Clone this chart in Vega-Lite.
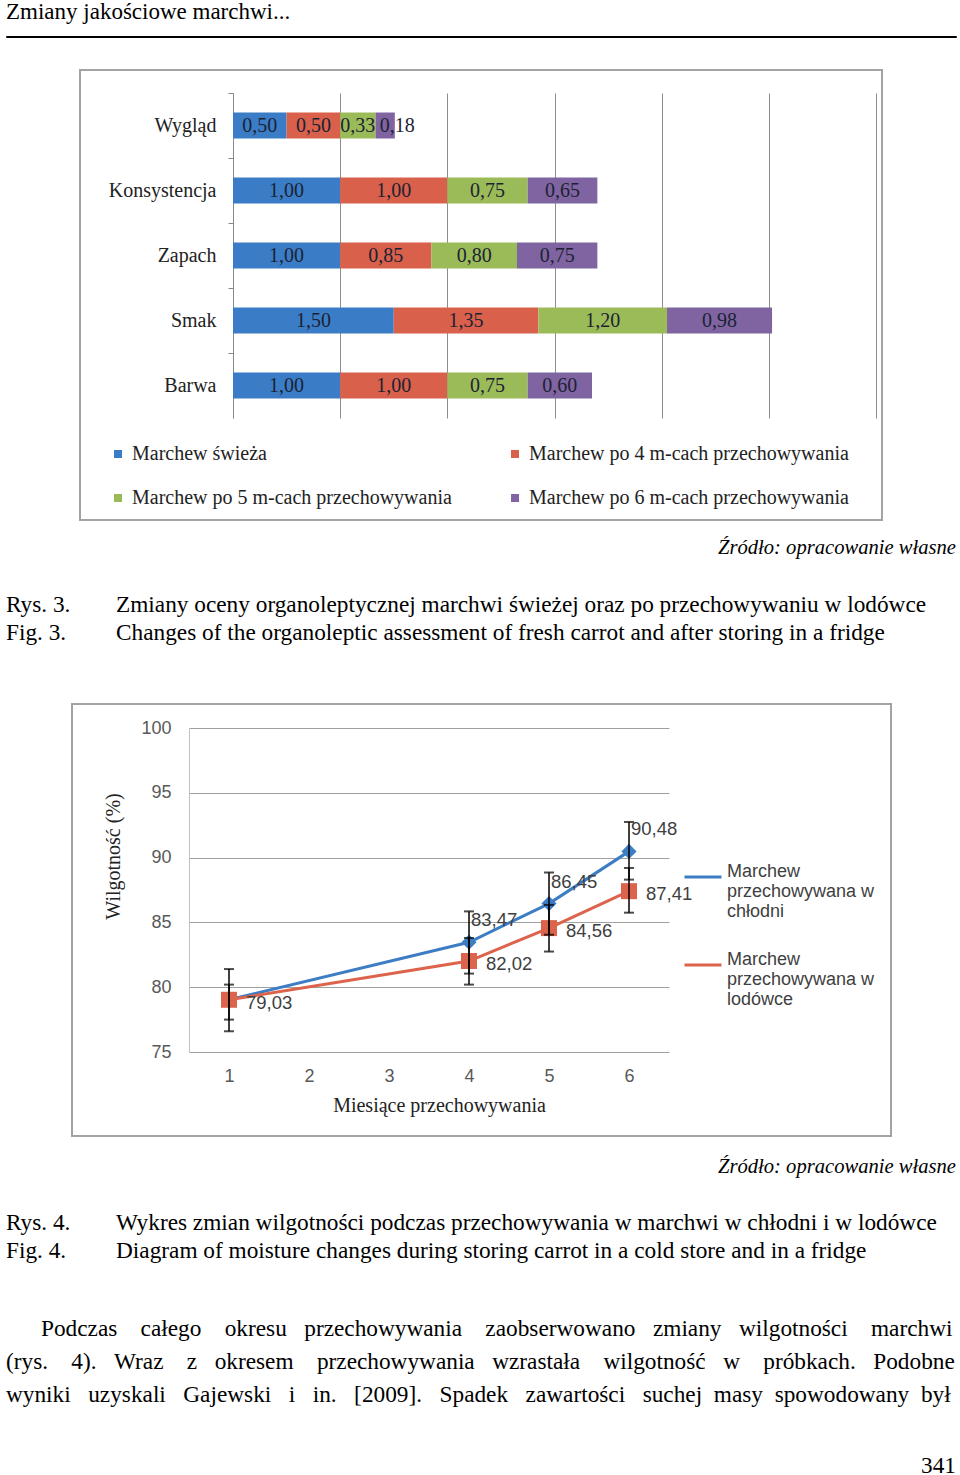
{
  "$schema": "https://vega.github.io/schema/vega-lite/v6.json",
  "background": "white",
  "padding": {"left": 5, "top": 0, "right": 5, "bottom": 0},
  "spacing": 0,
  "bounds": "full",
  "resolve": {
    "scale": {"color": "independent", "shape": "independent", "size": "independent", "x": "independent", "y": "independent"},
    "legend": {"color": "independent", "shape": "independent", "size": "independent"}
  },
  "datasets": {
    "bars": [
      {"crit": "Wygląd", "series": "Marchew świeża", "k": 1, "value": 0.50},
      {"crit": "Wygląd", "series": "Marchew po 4 m-cach przechowywania", "k": 2, "value": 0.50},
      {"crit": "Wygląd", "series": "Marchew po 5 m-cach przechowywania", "k": 3, "value": 0.33},
      {"crit": "Wygląd", "series": "Marchew po 6 m-cach przechowywania", "k": 4, "value": 0.18},
      {"crit": "Konsystencja", "series": "Marchew świeża", "k": 1, "value": 1.00},
      {"crit": "Konsystencja", "series": "Marchew po 4 m-cach przechowywania", "k": 2, "value": 1.00},
      {"crit": "Konsystencja", "series": "Marchew po 5 m-cach przechowywania", "k": 3, "value": 0.75},
      {"crit": "Konsystencja", "series": "Marchew po 6 m-cach przechowywania", "k": 4, "value": 0.65},
      {"crit": "Zapach", "series": "Marchew świeża", "k": 1, "value": 1.00},
      {"crit": "Zapach", "series": "Marchew po 4 m-cach przechowywania", "k": 2, "value": 0.85},
      {"crit": "Zapach", "series": "Marchew po 5 m-cach przechowywania", "k": 3, "value": 0.80},
      {"crit": "Zapach", "series": "Marchew po 6 m-cach przechowywania", "k": 4, "value": 0.75},
      {"crit": "Smak", "series": "Marchew świeża", "k": 1, "value": 1.50},
      {"crit": "Smak", "series": "Marchew po 4 m-cach przechowywania", "k": 2, "value": 1.35},
      {"crit": "Smak", "series": "Marchew po 5 m-cach przechowywania", "k": 3, "value": 1.20},
      {"crit": "Smak", "series": "Marchew po 6 m-cach przechowywania", "k": 4, "value": 0.98},
      {"crit": "Barwa", "series": "Marchew świeża", "k": 1, "value": 1.00},
      {"crit": "Barwa", "series": "Marchew po 4 m-cach przechowywania", "k": 2, "value": 1.00},
      {"crit": "Barwa", "series": "Marchew po 5 m-cach przechowywania", "k": 3, "value": 0.75},
      {"crit": "Barwa", "series": "Marchew po 6 m-cach przechowywania", "k": 4, "value": 0.60}
    ],
    "moist": [
      {"month": 1, "series": "Marchew przechowywana w chłodni", "value": 79.03, "lo": 76.6, "hi": 81.4},
      {"month": 4, "series": "Marchew przechowywana w chłodni", "value": 83.47, "lo": 81.05, "hi": 85.85},
      {"month": 5, "series": "Marchew przechowywana w chłodni", "value": 86.45, "lo": 84.05, "hi": 88.85},
      {"month": 6, "series": "Marchew przechowywana w chłodni", "value": 90.48, "lo": 88.3, "hi": 92.75},
      {"month": 1, "series": "Marchew przechowywana w lodówce", "value": 79.03, "lo": 77.5, "hi": 80.2},
      {"month": 4, "series": "Marchew przechowywana w lodówce", "value": 82.02, "lo": 80.2, "hi": 83.8},
      {"month": 5, "series": "Marchew przechowywana w lodówce", "value": 84.56, "lo": 82.75, "hi": 86.35},
      {"month": 6, "series": "Marchew przechowywana w lodówce", "value": 87.41, "lo": 85.75, "hi": 89.2}
    ]
  },
  "vconcat": [
    {
      "width": 950, "height": 1,
      "view": {"stroke": "#000000", "strokeWidth": 1},
      "title": {"text": "Zmiany jakościowe marchwi...", "anchor": "start", "fontSize": 23, "offset": -11, "baseline": "bottom"},
      "data": {"values": []}, "mark": "point"
    },
    {"width": 950, "height": 31, "data": {"values": []}, "mark": "point"},
    {
      "spacing": 0, "bounds": "flush",
      "hconcat": [
        {"width": 74, "height": 450, "data": {"values": []}, "mark": "point"},
        {
          "width": 802, "height": 450,
          "view": {"stroke": "#a3a3a3", "strokeWidth": 2},
          "data": {"name": "bars"},
          "encoding": {
            "y": {
              "field": "crit", "type": "nominal",
              "sort": ["Wygląd", "Konsystencja", "Zapach", "Smak", "Barwa"],
              "scale": {"range": [23, 348], "paddingInner": 0.6, "paddingOuter": 0.3},
              "axis": {
                "title": null, "orient": "left", "offset": -153,
                "labelFont": "Liberation Serif", "labelFontSize": 20, "labelColor": "#222222",
                "labelPadding": 12, "ticks": true, "tickSize": 5, "tickColor": "#8a8a8a",
                "bandPosition": -0.75,
                "domain": true, "domainColor": "#8a8a8a", "grid": false
              }
            }
          },
          "layer": [
            {
              "mark": {"type": "bar"},
              "encoding": {
                "x": {
                  "field": "value", "type": "quantitative", "stack": "zero",
                  "scale": {"domain": [0, 6], "range": [153, 796], "nice": false},
                  "axis": {"orient": "top", "title": null, "values": [0, 1, 2, 3, 4, 5, 6], "labels": false, "ticks": false, "domain": false, "grid": true, "gridColor": "#8c8c8c", "gridWidth": 1}
                },
                "color": {
                  "field": "series", "type": "nominal",
                  "scale": {
                    "domain": ["Marchew świeża", "Marchew po 4 m-cach przechowywania", "Marchew po 5 m-cach przechowywania", "Marchew po 6 m-cach przechowywania"],
                    "range": ["#3a7dc6", "#d9604a", "#9bbb59", "#8064a2"]
                  },
                  "legend": {
                    "title": null, "orient": "none", "legendX": 102, "legendY": 374,
                    "direction": "horizontal", "columns": 2, "columnPadding": 53, "rowPadding": 24,
                    "symbolType": "square", "symbolSize": 64, "symbolStrokeWidth": 0,
                    "labelFont": "Liberation Serif", "labelFontSize": 20, "labelColor": "#222222",
                    "labelOffset": 4, "labelLimit": 400
                  }
                },
                "order": {"field": "k", "type": "quantitative"}
              }
            },
            {
              "transform": [{"filter": "datum.value >= 0.3"}],
              "mark": {"type": "text", "font": "Liberation Serif", "fontSize": 20, "color": "#1c2233", "baseline": "middle", "align": "center"},
              "encoding": {
                "x": {"field": "value", "type": "quantitative", "stack": "zero", "bandPosition": 0.5},
                "detail": {"field": "series"},
                "order": {"field": "k", "type": "quantitative"},
                "text": {"field": "value", "type": "quantitative", "format": ".2f"}
              }
            },
            {
              "mark": {"type": "text", "font": "Liberation Serif", "fontSize": 20, "color": "#1c2233", "baseline": "middle", "align": "center", "dx": 12},
              "encoding": {
                "x": {"field": "value", "type": "quantitative", "stack": "zero", "bandPosition": 0.5},
                "detail": {"field": "series"},
                "order": {"field": "k", "type": "quantitative"},
                "text": {"condition": {"test": "datum.value < 0.3", "field": "value", "type": "quantitative", "format": ".2f"}, "value": ""}
              }
            }
          ]
        }
      ]
    },
    {"width": 950, "height": 17, "data": {"values": []}, "mark": "point"},
    {
      "width": 950, "height": 13,
      "title": {"text": "Źródło: opracowanie własne", "anchor": "end", "fontSize": 20.6, "fontStyle": "italic", "offset": 0, "baseline": "bottom"},
      "data": {"values": []}, "mark": "point"
    },
    {
      "spacing": 0, "bounds": "flush",
      "hconcat": [
        {
          "width": 110, "height": 35,
          "title": {"text": ["Rys. 3.", "Fig. 3."], "anchor": "start", "fontSize": 23.3, "lineHeight": 28, "offset": 0, "baseline": "bottom"},
          "data": {"values": []}, "mark": "point"
        },
        {
          "width": 840, "height": 35,
          "title": {"text": ["Zmiany oceny organoleptycznej marchwi świeżej oraz po przechowywaniu w lodówce", "Changes of the organoleptic assessment of fresh carrot and after storing in a fridge"], "anchor": "start", "fontSize": 23.3, "lineHeight": 28, "offset": 0, "baseline": "bottom"},
          "data": {"values": []}, "mark": "point"
        }
      ]
    },
    {
      "spacing": 0, "bounds": "flush",
      "hconcat": [
        {"width": 66, "height": 432, "data": {"values": []}, "mark": "point"},
        {
          "width": 819, "height": 432,
          "view": {"stroke": "#a3a3a3", "strokeWidth": 2},
          "data": {"name": "moist"},
          "encoding": {
            "x": {
              "field": "month", "type": "quantitative",
              "scale": {"domain": [0.5, 6.5], "range": [117, 597], "nice": false, "zero": false},
              "axis": {
                "orient": "bottom", "offset": -84, "values": [1, 2, 3, 4, 5, 6], "format": "d",
                "grid": false, "domain": false, "ticks": false,
                "labelFont": "Liberation Sans", "labelFontSize": 18, "labelColor": "#595959", "labelPadding": 15,
                "title": "Miesiące przechowywania", "titleFont": "Liberation Serif", "titleFontSize": 20,
                "titleFontWeight": "normal", "titleColor": "#222222", "titleX": 367, "titleY": 53, "titleBaseline": "middle"
              }
            },
            "y": {
              "field": "value", "type": "quantitative",
              "scale": {"domain": [75, 100], "range": [348, 24], "nice": false, "zero": false},
              "axis": {
                "orient": "left", "offset": -117, "values": [75, 80, 85, 90, 95, 100],
                "grid": true, "gridColor": "#a0a0a0", "domain": true, "domainColor": "#c0c0c0", "ticks": false,
                "labelFont": "Liberation Sans", "labelFontSize": 18, "labelColor": "#595959", "labelPadding": 18,
                "title": "Wilgotność (%)", "titleFont": "Liberation Serif", "titleFontSize": 20,
                "titleFontWeight": "normal", "titleColor": "#222222", "titleX": -76, "titleY": 152,
                "titleAngle": -90, "titleAlign": "center", "titleBaseline": "middle"
              }
            }
          },
          "layer": [
            {
              "mark": {"type": "line", "strokeWidth": 3},
              "encoding": {
                "color": {
                  "field": "series", "type": "nominal",
                  "scale": {"domain": ["Marchew przechowywana w chłodni", "Marchew przechowywana w lodówce"], "range": ["#3c7dc4", "#dc634c"]},
                  "legend": {
                    "title": null, "orient": "none", "legendX": 677, "legendY": 153,
                    "symbolType": "stroke", "symbolSize": 1369, "symbolStrokeWidth": 3,
                    "labelFont": "Liberation Sans", "labelFontSize": 18, "labelColor": "#404040",
                    "labelBaseline": "alphabetic", "labelOffset": 4, "labelLimit": 300, "rowPadding": 24,
                    "labelExpr": "datum.label == 'Marchew przechowywana w chłodni' ? ['Marchew', 'przechowywana w', 'chłodni'] : ['Marchew', 'przechowywana w', 'lodówce']"
                  }
                }
              }
            },
            {
              "mark": {"type": "point", "filled": true, "opacity": 1},
              "encoding": {
                "color": {"field": "series", "type": "nominal"},
                "shape": {"field": "series", "type": "nominal", "scale": {"range": ["diamond", "square"]}, "legend": null},
                "size": {"field": "series", "type": "nominal", "scale": {"range": [230, 256]}, "legend": null}
              }
            },
            {
              "mark": {"type": "rule", "color": "#000000", "strokeWidth": 1.5},
              "encoding": {"y": {"field": "lo", "type": "quantitative"}, "y2": {"field": "hi"}}
            },
            {
              "mark": {"type": "tick", "orient": "horizontal", "color": "#000000", "size": 10, "thickness": 2},
              "encoding": {"y": {"field": "lo", "type": "quantitative"}}
            },
            {
              "mark": {"type": "tick", "orient": "horizontal", "color": "#000000", "size": 10, "thickness": 2},
              "encoding": {"y": {"field": "hi", "type": "quantitative"}}
            },
            {
              "transform": [{"filter": "datum.series == 'Marchew przechowywana w chłodni' && datum.month > 1"}],
              "mark": {"type": "text", "font": "Liberation Sans", "fontSize": 18.5, "color": "#404040", "align": "left", "baseline": "middle", "dx": 2, "dy": -22},
              "encoding": {"text": {"field": "value", "type": "quantitative", "format": ".2f"}}
            },
            {
              "transform": [{"filter": "datum.series == 'Marchew przechowywana w lodówce'"}],
              "mark": {"type": "text", "font": "Liberation Sans", "fontSize": 18.5, "color": "#404040", "align": "left", "baseline": "middle", "dx": 17, "dy": 3},
              "encoding": {"text": {"field": "value", "type": "quantitative", "format": ".2f"}}
            }
          ]
        }
      ]
    },
    {"width": 950, "height": 20, "data": {"values": []}, "mark": "point"},
    {
      "width": 950, "height": 12,
      "title": {"text": "Źródło: opracowanie własne", "anchor": "end", "fontSize": 20.6, "fontStyle": "italic", "offset": 0, "baseline": "bottom"},
      "data": {"values": []}, "mark": "point"
    },
    {
      "spacing": 0, "bounds": "flush",
      "hconcat": [
        {
          "width": 110, "height": 30,
          "title": {"text": ["Rys. 4.", "Fig. 4."], "anchor": "start", "fontSize": 23.3, "lineHeight": 28, "offset": 0, "baseline": "bottom"},
          "data": {"values": []}, "mark": "point"
        },
        {
          "width": 840, "height": 30,
          "title": {"text": ["Wykres zmian wilgotności podczas przechowywania w marchwi w chłodni i w lodówce", "Diagram of moisture changes during storing carrot in a cold store and in a fridge"], "anchor": "start", "fontSize": 23.3, "lineHeight": 28, "offset": 0, "baseline": "bottom"},
          "data": {"values": []}, "mark": "point"
        }
      ]
    },
    {
      "width": 950, "height": 23,
      "title": {"text": [
        "\u200b\u00a0\u00a0\u00a0\u00a0\u00a0\u00a0Podczas \u00a0\u00a0\u00a0całego \u00a0\u00a0\u00a0okresu \u00a0\u00a0przechowywania \u00a0\u00a0\u00a0zaobserwowano \u00a0\u00a0zmiany \u00a0\u00a0wilgotności \u00a0\u00a0\u00a0marchwi",
        "(rys. \u00a0\u00a0\u00a04). \u00a0\u00a0Wraz \u00a0\u00a0\u00a0z \u00a0\u00a0okresem \u00a0\u00a0\u00a0przechowywania \u00a0\u00a0wzrastała \u00a0\u00a0\u00a0wilgotność \u00a0\u00a0w \u00a0\u00a0\u00a0próbkach. \u00a0\u00a0Podobne",
        "wyniki \u00a0\u00a0uzyskali \u00a0\u00a0Gajewski \u00a0\u00a0i \u00a0\u00a0in. \u00a0\u00a0[2009]. \u00a0\u00a0Spadek \u00a0\u00a0zawartości \u00a0\u00a0suchej \u00a0masy \u00a0spowodowany \u00a0był"
      ], "anchor": "start", "fontSize": 23.3, "lineHeight": 33, "offset": 0, "baseline": "bottom"},
      "data": {"values": []}, "mark": "point"
    },
    {
      "width": 950, "height": 1,
      "title": {"text": "341", "anchor": "end", "fontSize": 23.3, "offset": 0, "baseline": "bottom"},
      "data": {"values": []}, "mark": "point"
    }
  ],
  "config": {
    "view": {"stroke": null},
    "font": "Liberation Serif",
    "title": {"font": "Liberation Serif", "fontWeight": "normal", "color": "#000000"},
    "locale": {"number": {"decimal": ",", "thousands": "\u00a0", "grouping": [3], "currency": ["", " zł"]}}
  }
}
